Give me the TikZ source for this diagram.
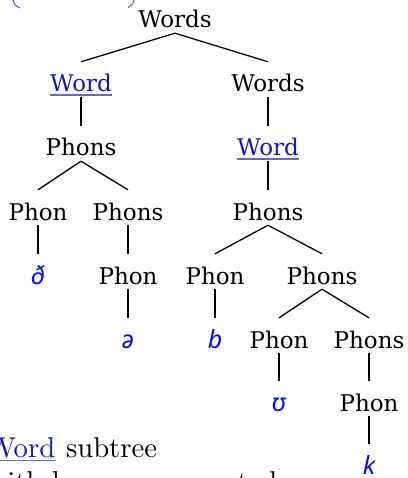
\documentclass[tikz,border=0pt]{standalone}
\usepackage{fontspec}
\newfontfamily\treefont{DejaVu Serif}
\newfontfamily\ipafont{Noto Sans}
\definecolor{linkblue}{RGB}{20,20,200}
\definecolor{ulblue}{RGB}{100,100,220}
\definecolor{ipablue}{RGB}{10,10,250}
\begin{document}
\begin{tikzpicture}[x=1pt,y=-1pt,
  tr/.style={font=\treefont\fontsize{23}{23}\selectfont, inner sep=0pt, text height=30pt, text depth=5pt, anchor=base},
  lk/.style={tr, text=linkblue},
  ipa/.style={font=\ipafont\itshape\fontsize{25}{25}\selectfont, inner sep=0pt, text height=30pt, text depth=5pt, anchor=base, text=ipablue},
  treeedge/.style={line width=1.3pt},
  ulline/.style={ulblue, line width=1.6pt},
  captext/.style={scale=2.87, inner sep=0pt, anchor=base west},
  parcurve/.style={ulblue, line width=1.1pt}]
\useasboundingbox (0,0) rectangle (407,478);
% tree nodes
\node[tr] (w0) at (175,28) {Words};
\node[lk] (w1) at (81,92) {Word};
\node[tr] (ws1) at (268,92) {Words};
\node[tr] (p2) at (81,156) {Phons};
\node[lk] (w2) at (268,156) {Word};
\node[tr] (ph3a) at (38,220) {Phon};
\node[tr] (ps3b) at (128,220) {Phons};
\node[tr] (ps3c) at (268,220) {Phons};
\node[ipa] (i4a) at (38,284) {ð};
\node[tr] (ph4b) at (128,284) {Phon};
\node[tr] (ph4c) at (215,284) {Phon};
\node[tr] (ps4d) at (322,284) {Phons};
\node[ipa] (i5a) at (128,348) {ə};
\node[ipa] (i5b) at (215,348) {b};
\node[tr] (ph5c) at (279,348) {Phon};
\node[tr] (ps5d) at (369,348) {Phons};
\node[ipa] (i6a) at (279,411) {ʊ};
\node[tr] (ph6b) at (369,411) {Phon};
\node[ipa, text depth=0pt] (i7) at (369,474) {k};
% edges
\draw[treeedge] (w0.south) -- (w1.north);
\draw[treeedge] (w0.south) -- (ws1.north);
\draw[treeedge] (w1.south) -- (p2.north);
\draw[treeedge] (ws1.south) -- (w2.north);
\draw[treeedge] (p2.south) -- (ph3a.north);
\draw[treeedge] (p2.south) -- (ps3b.north);
\draw[treeedge] (w2.south) -- (ps3c.north);
\draw[treeedge] (ph3a.south) -- (i4a.north);
\draw[treeedge] (ps3b.south) -- (ph4b.north);
\draw[treeedge] (ps3c.south) -- (ph4c.north);
\draw[treeedge] (ps3c.south) -- (ps4d.north);
\draw[treeedge] (ph4b.south) -- (i5a.north);
\draw[treeedge] (ph4c.south) -- (i5b.north);
\draw[treeedge] (ps4d.south) -- (ph5c.north);
\draw[treeedge] (ps4d.south) -- (ps5d.north);
\draw[treeedge] (ph5c.south) -- (i6a.north);
\draw[treeedge] (ps5d.south) -- (ph6b.north);
\draw[treeedge] (ph6b.south) -- (i7.north);
% link underlines
\draw[ulline] ([yshift=-3pt]w1.base west) -- ([yshift=-3pt]w1.base east);
\draw[ulline] ([yshift=-3pt]w2.base west) -- ([yshift=-3pt]w2.base east);
% parentheses cut at the top
\draw[parcurve] (13,0) .. controls (14,5) and (17,7) .. (20,8);
\draw[parcurve] (134,0) .. controls (133,4) and (131,6) .. (128,7.5);
% text below
\node[captext, text=linkblue] (cw) at (-14,457) {Word};
\node[captext] (cs) at ([xshift=9.6pt]cw.base east) {subtree};
\draw[ulline] ([yshift=-3.5pt]cw.base west) -- ([yshift=-3.5pt]cw.base east);
\node[captext] (c2) at (-14,491.4) {with leaves represented};
\end{tikzpicture}
\end{document}
